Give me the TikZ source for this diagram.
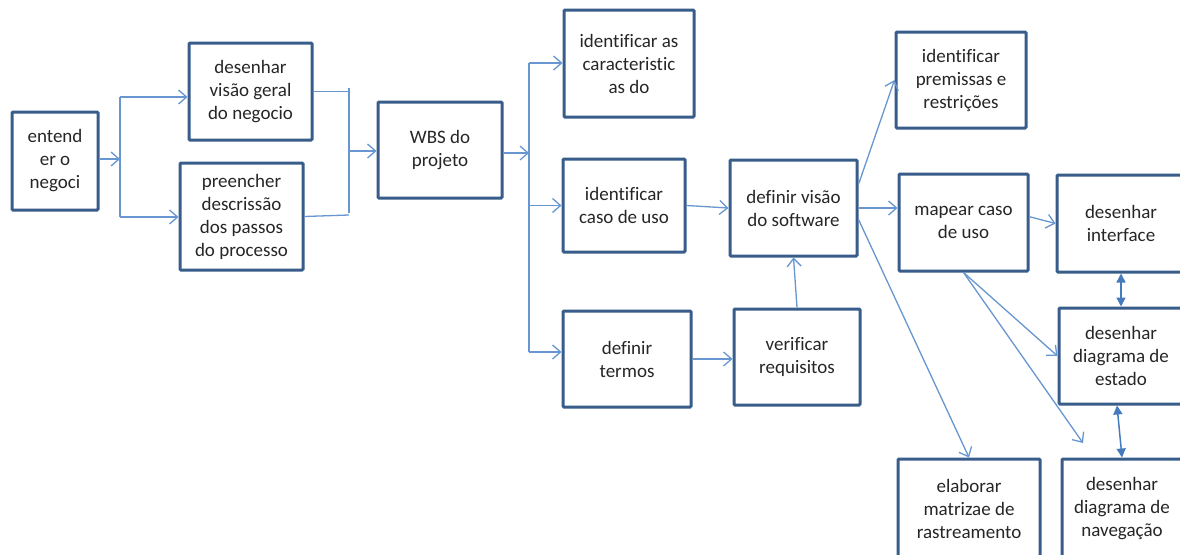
\documentclass[tikz,border=0pt]{standalone}
\usepackage{fontspec}
\setmainfont{Carlito}[Ligatures=NoCommon]
\usetikzlibrary{arrows.meta}
\definecolor{caixaborda}{RGB}{56,93,138}
\definecolor{linha}{RGB}{104,150,208}
\definecolor{linhaforte}{RGB}{70,122,190}

\begin{document}
\begin{tikzpicture}[x=1pt, y=-1pt,
		caixa/.style={draw=caixaborda, line width=3pt, rounded corners=1pt, fill=white, align=center, text=black!85, font=\fontsize{19}{23}\selectfont, inner sep=2pt},
		liga/.style={draw=linha, line width=1.3pt},
		seta/.style={liga, -{Straight Barb[length=8pt, width=14pt, line width=1.3pt]}},
		dupla/.style={draw=linhaforte, line width=1.5pt, {Triangle[length=9pt, width=9pt]}-{Triangle[length=9pt, width=9pt]}}]
			\clip (0, 0) rectangle (1180, 554);
			\fill[white] (0, 0) rectangle (1180, 554);

			\draw (55, 161) 	node[caixa, minimum width=86pt, minimum height=98pt] 	(entender) 		{entend\\er o\\negoci};
			\draw (250.5, 91.5) 	node[caixa, minimum width=123pt, minimum height=97pt] 	(visao_geral) 	{desenhar\\visão geral\\do negocio};
			\draw (241.5, 216.5) 	node[caixa, minimum width=123pt, minimum height=107pt] 	(descricao) 	{preencher\\descrissão\\dos passos\\do processo};
			\draw (440, 150) 	node[caixa, minimum width=124pt, minimum height=96pt] 	(wbs) 			{WBS do\\projeto};
			\draw (629, 63.5) 	node[caixa, minimum width=130pt, minimum height=107pt] 	(caracteristicas) {identificar as\\caracteristic\\as do};
			\draw (624, 205.5) 	node[caixa, minimum width=122pt, minimum height=93pt] 	(caso_uso) 		{identificar\\caso de uso};
			\draw (627, 359) 	node[caixa, minimum width=128pt, minimum height=96pt] 	(termos) 		{definir\\termos};
			\draw (797, 357) 	node[caixa, minimum width=126pt, minimum height=96pt] 	(requisitos) 	{verificar\\requisitos};
			\draw (793.5, 208) 	node[caixa, minimum width=127pt, minimum height=96pt] 	(visao_sw) 		{definir visão\\do software};
			\draw (961, 80) 	node[caixa, minimum width=130pt, minimum height=96pt] 	(premissas) 	{identificar\\premissas e\\restrições};
			\draw (963.5, 222.5) 	node[caixa, minimum width=129pt, minimum height=97pt] 	(mapear) 		{mapear caso\\de uso};
			\draw (1121, 223.5) 	node[caixa, minimum width=128pt, minimum height=97pt] 	(interface) 	{desenhar\\interface};
			\draw (1121, 356) 	node[caixa, minimum width=124pt, minimum height=96pt] 	(estado) 		{desenhar\\diagrama de\\estado};
			\draw (1122, 509) 	node[caixa, minimum width=120pt, minimum height=100pt] 	(navegacao) 	{desenhar\\diagrama de\\navegação};
			\draw (969, 509) 	node[caixa, minimum width=142pt, minimum height=100pt] 	(matriz) 		{elaborar\\matrizae de\\rastreamento};

			\coordinate (j1) 	at (120, 159);
			\coordinate (j1_a) 	at (120, 97);
			\coordinate (j1_b) 	at (120, 217);
			\coordinate (j2) 	at (349, 151);
			\coordinate (j2_a) 	at (349, 88);
			\coordinate (j2_b) 	at (349, 213);
			\coordinate (j3) 	at (529, 153);
			\coordinate (j3_a) 	at (529, 63);
			\coordinate (j3_b) 	at (529, 352);
			\coordinate (nav_ponta) at (1083, 443);

			\draw[seta] (entender.east |- j1) -- (j1);
			\draw[liga] (j1_a) -- (j1_b);
			\draw[seta] (j1_a) -- (j1_a -| visao_geral.west);
			\draw[seta] (j1_b) -- (j1_b -| descricao.west);
			\draw[liga] (visao_geral.east) -- (visao_geral.east -| j2_a);
			\draw[liga] (j2_a) -- (j2_b);
			\draw[liga] (descricao.east) -- ([yshift=-2pt]j2_b);
			\draw[seta] (j2) -- (j2 -| wbs.west);
			\draw[seta] (wbs.east |- j3) -- (j3);
			\draw[liga] (j3_a) -- (j3_b);
			\draw[seta] (j3_a) -- (j3_a -| caracteristicas.west);
			\draw[seta] (j3 |- caso_uso.west) -- (caso_uso.west);
			\draw[seta] (j3_b) -- (j3_b -| termos.west);
			\draw[seta] (caso_uso.east) -- (visao_sw.west);
			\draw[seta] (termos.east) -- (termos.east -| requisitos.west);
			\draw[seta] (requisitos.north) -- (visao_sw.south);
			\draw[seta] (visao_sw.20) -- (premissas.west);
			\draw[seta] (visao_sw.east) -- (visao_sw.east -| mapear.west);
			\draw[seta] (visao_sw.-10) -- (matriz.north);
			\draw[seta] (mapear.5) -- (interface.west);
			\draw[seta] (mapear.south) -- (estado.west);
			\draw[seta] (mapear.south) -- (nav_ponta);
			\draw[dupla] (interface.south) -- (estado.north);
			\draw[dupla] ([xshift=-4pt]estado.south) -- (navegacao.north);
		\end{tikzpicture}
\end{document}
